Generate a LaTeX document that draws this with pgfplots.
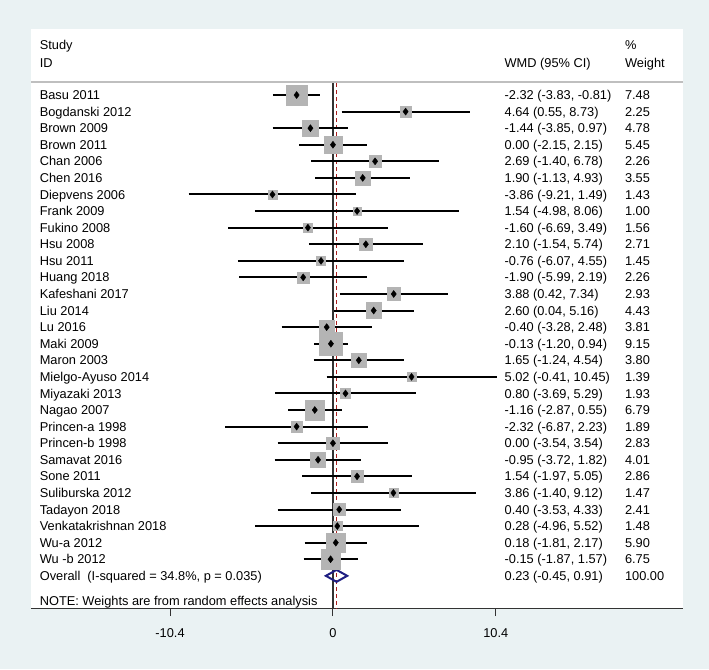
\documentclass[border=0pt]{standalone}
\usepackage{pgfplots}
\pgfplotsset{compat=1.18}
\usepackage{pgfplotstable}
\usepackage{fontspec}
\setmainfont{Liberation Sans}
\definecolor{bgcol}{RGB}{234,242,243}
\definecolor{boxgray}{RGB}{180,180,180}
\definecolor{refred}{RGB}{170,30,30}
\definecolor{navy}{RGB}{30,30,130}
\newcommand\fs{\fontsize{12.8}{15}\selectfont}

% row (negative, top to bottom); estimate; CI; % weight
\pgfplotstableread[col sep=semicolon]{
row;name;est;lo;hi;w;ci
-1;Basu 2011;-2.32;-3.83;-0.81;7.48;-2.32 (-3.83, -0.81)
-2;Bogdanski 2012;4.64;0.55;8.73;2.25;4.64 (0.55, 8.73)
-3;Brown 2009;-1.44;-3.85;0.97;4.78;-1.44 (-3.85, 0.97)
-4;Brown 2011;0.00;-2.15;2.15;5.45;0.00 (-2.15, 2.15)
-5;Chan 2006;2.69;-1.40;6.78;2.26;2.69 (-1.40, 6.78)
-6;Chen 2016;1.90;-1.13;4.93;3.55;1.90 (-1.13, 4.93)
-7;Diepvens 2006;-3.86;-9.21;1.49;1.43;-3.86 (-9.21, 1.49)
-8;Frank 2009;1.54;-4.98;8.06;1.00;1.54 (-4.98, 8.06)
-9;Fukino 2008;-1.60;-6.69;3.49;1.56;-1.60 (-6.69, 3.49)
-10;Hsu 2008;2.10;-1.54;5.74;2.71;2.10 (-1.54, 5.74)
-11;Hsu 2011;-0.76;-6.07;4.55;1.45;-0.76 (-6.07, 4.55)
-12;Huang 2018;-1.90;-5.99;2.19;2.26;-1.90 (-5.99, 2.19)
-13;Kafeshani 2017;3.88;0.42;7.34;2.93;3.88 (0.42, 7.34)
-14;Liu 2014;2.60;0.04;5.16;4.43;2.60 (0.04, 5.16)
-15;Lu 2016;-0.40;-3.28;2.48;3.81;-0.40 (-3.28, 2.48)
-16;Maki 2009;-0.13;-1.20;0.94;9.15;-0.13 (-1.20, 0.94)
-17;Maron 2003;1.65;-1.24;4.54;3.80;1.65 (-1.24, 4.54)
-18;Mielgo-Ayuso 2014;5.02;-0.41;10.45;1.39;5.02 (-0.41, 10.45)
-19;Miyazaki 2013;0.80;-3.69;5.29;1.93;0.80 (-3.69, 5.29)
-20;Nagao 2007;-1.16;-2.87;0.55;6.79;-1.16 (-2.87, 0.55)
-21;Princen-a 1998;-2.32;-6.87;2.23;1.89;-2.32 (-6.87, 2.23)
-22;Princen-b 1998;0.00;-3.54;3.54;2.83;0.00 (-3.54, 3.54)
-23;Samavat 2016;-0.95;-3.72;1.82;4.01;-0.95 (-3.72, 1.82)
-24;Sone 2011;1.54;-1.97;5.05;2.86;1.54 (-1.97, 5.05)
-25;Suliburska 2012;3.86;-1.40;9.12;1.47;3.86 (-1.40, 9.12)
-26;Tadayon 2018;0.40;-3.53;4.33;2.41;0.40 (-3.53, 4.33)
-27;Venkatakrishnan 2018;0.28;-4.96;5.52;1.48;0.28 (-4.96, 5.52)
-28;Wu-a 2012;0.18;-1.81;2.17;5.90;0.18 (-1.81, 2.17)
-29;Wu -b 2012;-0.15;-1.87;1.57;6.75;-0.15 (-1.87, 1.57)
}\studies

\begin{document}
\begin{tikzpicture}
\fill[bgcol] (0,0) rectangle (709pt,669pt);
\useasboundingbox (0,0) rectangle (709pt,669pt);
\begin{axis}[
  at={(31pt,60pt)}, anchor=south west,
  scale only axis, width=651.5pt, height=580.3pt,
  xmin=-19.28, xmax=22.32, ymin=-32, ymax=3,
  axis background/.style={fill=white},
  axis x line*=bottom, axis y line=none,
  x axis line style={-, line width=1pt, black!80},
  xtick={-10.4,0,10.4}, xticklabels={-10.4,0,10.4},
  tick align=outside, major tick length=7pt,
  xtick style={line width=1pt, black!80},
  xticklabel style={font=\fs, anchor=center, yshift=-16.7pt},
  clip=false,
  every node near coord/.style={anchor=base west, inner sep=0pt, yshift=-4.6pt, font=\fs, text=black},
]
% header
\node[font=\fs, anchor=base west, inner sep=0pt, yshift=-4.6pt] at (axis cs:-18.73,2.0) {Study};
\node[font=\fs, anchor=base west, inner sep=0pt, yshift=-4.6pt] at (axis cs:-18.73,0.93) {ID};
\node[font=\fs, anchor=base west, inner sep=0pt, yshift=-4.6pt] at (axis cs:10.95,0.93) {WMD (95\% CI)};
\node[font=\fs, anchor=base west, inner sep=0pt, yshift=-4.6pt] at (axis cs:18.64,2.0) {\%};
\node[font=\fs, anchor=base west, inner sep=0pt, yshift=-4.6pt] at (axis cs:18.64,0.93) {Weight};
\addplot[black!25, line width=1.5pt] coordinates {(-19.28,-0.216) (22.32,-0.216)};

% reference lines
\addplot[black!80, line width=2pt] coordinates {(0,-0.3) (0,-32)};
\addplot[refred, line width=1.2pt, dash pattern=on 4pt off 3pt] coordinates {(0.23,-0.3) (0.23,-32)};

% weight boxes
\addplot[scatter, only marks, mark=square*,
  scatter/use mapped color={draw=boxgray, fill=boxgray},
  visualization depends on={3.75*sqrt(\thisrow{w}) \as \bsize},
  scatter/@pre marker code/.append style={/tikz/mark size=\bsize}]
  table[x=est, y=row]{\studies};

% confidence intervals
\addplot[black, line width=2pt, -, quiver={u=\thisrow{hi}-\thisrow{lo}, v=0}]
  table[x=lo, y=row]{\studies};

% point estimates
\addplot[only marks, mark=diamond*, mark size=3.5pt, black]
  table[x=est, y=row]{\studies};

% overall diamond
\addplot[navy, line width=2pt, fill=none] coordinates {(-0.45,-30) (0.23,-29.64) (0.91,-30) (0.23,-30.36)} --cycle;

% text columns
\addplot[only marks, mark=*, mark size=0pt, mark options={draw=none, fill=none},
  nodes near coords, point meta=explicit symbolic]
  table[x expr=-18.73, y=row, meta=name]{\studies};
\addplot[only marks, mark=*, mark size=0pt, mark options={draw=none, fill=none},
  nodes near coords, point meta=explicit symbolic]
  table[x expr=10.95, y=row, meta=ci]{\studies};
\addplot[only marks, mark=*, mark size=0pt, mark options={draw=none, fill=none},
  nodes near coords, point meta=explicit symbolic]
  table[x expr=18.64, y=row, meta=w]{\studies};

\node[font=\fs, anchor=base west, inner sep=0pt, yshift=-4.6pt] at (axis cs:-18.73,-30) {Overall\ \ (I-squared = 34.8\%, p = 0.035)};
\node[font=\fs, anchor=base west, inner sep=0pt, yshift=-4.6pt] at (axis cs:10.95,-30) {0.23 (-0.45, 0.91)};
\node[font=\fs, anchor=base west, inner sep=0pt, yshift=-4.6pt] at (axis cs:18.64,-30) {100.00};
\node[font=\fs, anchor=base west, inner sep=0pt, yshift=-4.6pt] at (axis cs:-18.73,-31.52) {NOTE: Weights are from random effects analysis};
\end{axis}
\end{tikzpicture}
\end{document}
